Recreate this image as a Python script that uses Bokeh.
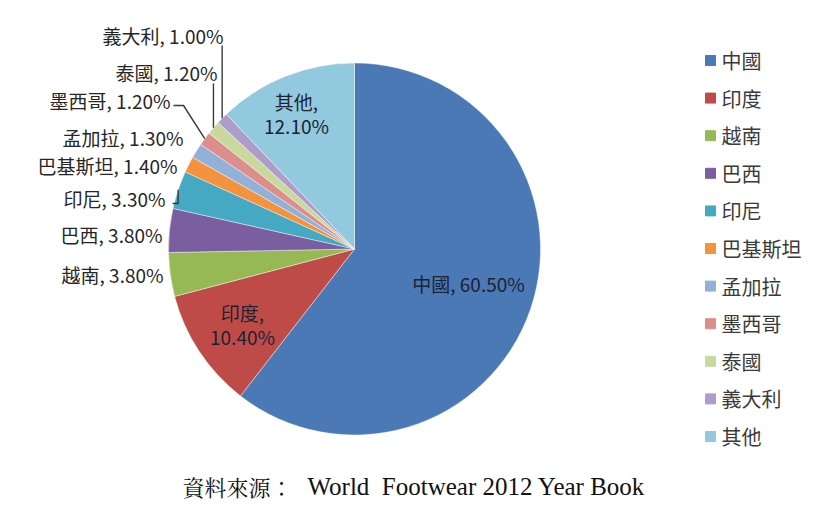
import numpy as np
from bokeh.plotting import figure
from bokeh.models import Range1d, ColumnDataSource
from bokeh.core.properties import value
from bokeh.embed import file_html
from bokeh.resources import INLINE

# ---- data ----
countries = ["中國", "印度", "越南", "巴西", "印尼", "巴基斯坦", "孟加拉", "墨西哥", "泰國", "義大利", "其他"]
shares = [60.5, 10.4, 3.8, 3.8, 3.3, 1.4, 1.3, 1.2, 1.2, 1.0, 12.1]
colors = ["#4A79B6", "#BE4B48", "#97B955", "#7A5EA0", "#45A9C4", "#F3933F",
          "#93B0D9", "#DB8E8C", "#C9D99E", "#AE9CCB", "#93C9DE"]
caption_cn = "資料來源："
caption_en = "World\u00a0 Footwear 2012 Year Book"

# ---- layout (screen pixels) ----
W, H = 812, 508
def X(sx):
    return sx
def Y(sy):
    return H - sy

CX, CY, R = 354, 248.5, 186
FONT = "Noto Sans CJK TC"

p = figure(width=W, height=H, x_range=Range1d(0, W), y_range=Range1d(0, H),
           output_backend="svg", toolbar_location=None, min_border=0)
p.axis.visible = False
p.grid.visible = False
p.outline_line_color = None
p.background_fill_color = "white"
p.border_fill_color = "white"

vals = np.array(shares, dtype=float)
frac = vals / vals.sum()
cum = np.cumsum(frac)
prev = np.concatenate([[0.0], cum[:-1]])
start = np.pi / 2 - 2 * np.pi * prev
end = np.pi / 2 - 2 * np.pi * cum
mid = (start + end) / 2

src = ColumnDataSource(dict(start=start, end=end, color=colors, name=countries))
p.wedge(x=X(CX), y=Y(CY), radius=R, start_angle="start", end_angle="end",
        direction="clock", fill_color="color", line_color="white",
        line_width=0.6, line_alpha=0.7, source=src)

def edge(i):
    return CX + R * np.cos(mid[i]), CY - R * np.sin(mid[i])

def label(i):
    return f"{countries[i]}, {shares[i]:.2f}%"

# outside labels: right end x, centre y (screen)
outside = {2: (163, 274), 3: (162, 234), 4: (165, 198), 5: (177, 165),
           6: (183, 137), 7: (170, 100), 8: (217, 72), 9: (223, 35)}
ox, oy, ot = [], [], []
for i, (sx, sy) in outside.items():
    ox.append(X(sx)); oy.append(Y(sy)); ot.append(label(i))
p.text(x=ox, y=oy, text=ot, text_align="right", text_baseline="middle",
       text_font=value(FONT), text_font_size="19px", text_color="#262626")

# inside labels
ix = [X(468), X(242), X(242), X(296), X(296)]
iy = [Y(283), Y(312), Y(336), Y(101), Y(125)]
it = [label(0), f"{countries[1]},", f"{shares[1]:.2f}%", f"{countries[10]},", f"{shares[10]:.2f}%"]
p.text(x=ix, y=iy, text=it, text_align="center", text_baseline="middle",
       text_font=value(FONT), text_font_size="19px", text_color="#1E2233")

# leader lines
xs, ys = [], []
ex, ey = edge(9); xs.append([X(ex), X(ex)]); ys.append([Y(ey), Y(45)])
ex, ey = edge(8); xs.append([X(ex), X(ex)]); ys.append([Y(ey), Y(83)])
ex, ey = edge(7); xs.append([X(ex), X(183), X(173)]); ys.append([Y(ey), Y(105), Y(105)])
ex, ey = edge(4); xs.append([X(ex), X(ex), X(172)]); ys.append([Y(ey), Y(203), Y(203)])
p.multi_line(xs=xs, ys=ys, line_color="#3a3a3a", line_width=1.4)

# legend
n = len(countries)
lx = [X(710)] * n
ly = [Y(60 + k * 37.6) for k in range(n)]
p.scatter(x=lx, y=ly, marker="square", size=10, fill_color=colors, line_color=colors)
p.text(x=[X(721)] * n, y=ly, text=countries, text_align="left", text_baseline="middle",
       text_font=value(FONT), text_font_size="20px", text_color="#3a3a3a")

# caption
p.text(x=[X(182)], y=[Y(486)], text=[caption_cn], text_align="left", text_baseline="middle",
       text_font=value("Noto Serif CJK TC"), text_font_size="22px", text_color="#111111")
p.text(x=[X(307)], y=[Y(486)], text=[caption_en], text_align="left", text_baseline="middle",
       text_font=value("Liberation Serif"), text_font_size="25px", text_color="#111111")

open("out.html", "w").write(file_html(p, INLINE))
